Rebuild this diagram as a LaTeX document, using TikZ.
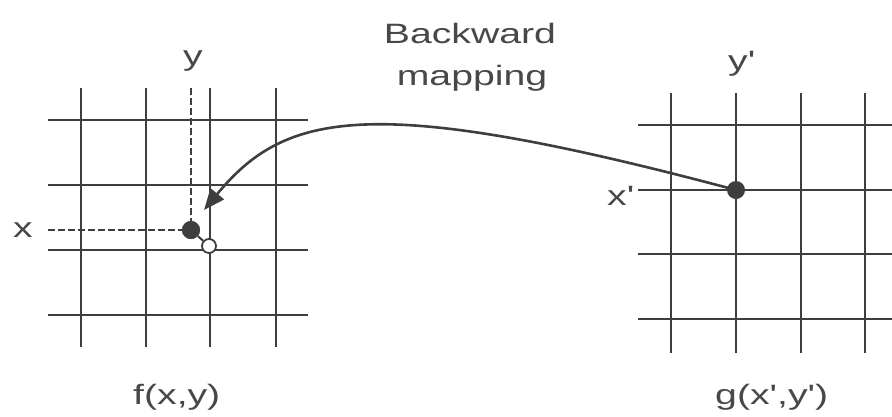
\documentclass[tikz,border=0pt]{standalone}
\usepackage{fontspec}
\setmainfont[FakeStretch=1.4, Ligatures=TeXOff]{Liberation Sans}
\usetikzlibrary{arrows.meta}
\definecolor{linec}{RGB}{62,62,62}
\definecolor{textc}{RGB}{72,72,72}
\tikzset{
  gridline/.style={draw=linec, line width=2.6pt},
  dashline/.style={draw=linec, line width=2.4pt, dash pattern=on 7pt off 3pt},
  fdot/.style={circle, fill=linec, draw=none, minimum size=18pt, inner sep=0pt},
  odot/.style={circle, fill=white, draw=linec, line width=1.8pt, minimum size=14pt, inner sep=0pt},
  lbl/.style={text=textc, inner sep=0pt, font=\fontsize{28pt}{32pt}\selectfont},
  maparrow/.style={draw=linec, line width=2.6pt, -{Triangle[length=21pt,width=17pt]}},
}
\begin{document}
\begin{tikzpicture}[x=1pt,y=-1pt]
\useasboundingbox (0,0) rectangle (892,416);
% left grid
\foreach \gx in {81,146,210,276} \draw[gridline] (\gx,88) -- (\gx,347);
\foreach \gy in {120,185,250,315} \draw[gridline] (48,\gy) -- (308,\gy);
% right grid
\foreach \gx in {671,736,801,865} \draw[gridline] (\gx,93) -- (\gx,353);
\foreach \gy in {125,190,254,319} \draw[gridline] (638,\gy) -- (892,\gy);
% points
\coordinate (ytop) at (191,88);
\coordinate (xleft) at (48,230);
\coordinate (tip) at (204,210);
\node[fdot] (p) at (191,230) {};
\node[odot] (q) at (209,246) {};
\node[fdot] (src) at (736,190) {};
\draw[dashline] (ytop) -- (p);
\draw[dashline] (xleft) -- (p);
\draw[draw=linec, line width=2pt] (p) -- (q);
\node[fdot] at (p) {};
\draw[maparrow] (src.center) .. controls (369,92) and (285,112) .. (tip);
% labels
\node[lbl, anchor=base] (ly) at (193,65) {y};
\node[lbl, anchor=base] (lx) at (23,237) {x};
\node[lbl, anchor=base west] (lxp) at (607,205) {x'};
\node[lbl, anchor=base west] (lyp) at (728,70) {y'};
\node[lbl, anchor=base west] (lf) at (133,404) {f(x,y)};
\node[lbl, anchor=base west] (lg) at (715,404) {g(x',y')};
\node[lbl, anchor=base] (lb1) at (470,43) {Backward};
\node[lbl, anchor=base] (lb2) at (472,85) {mapping};
\end{tikzpicture}
\end{document}
